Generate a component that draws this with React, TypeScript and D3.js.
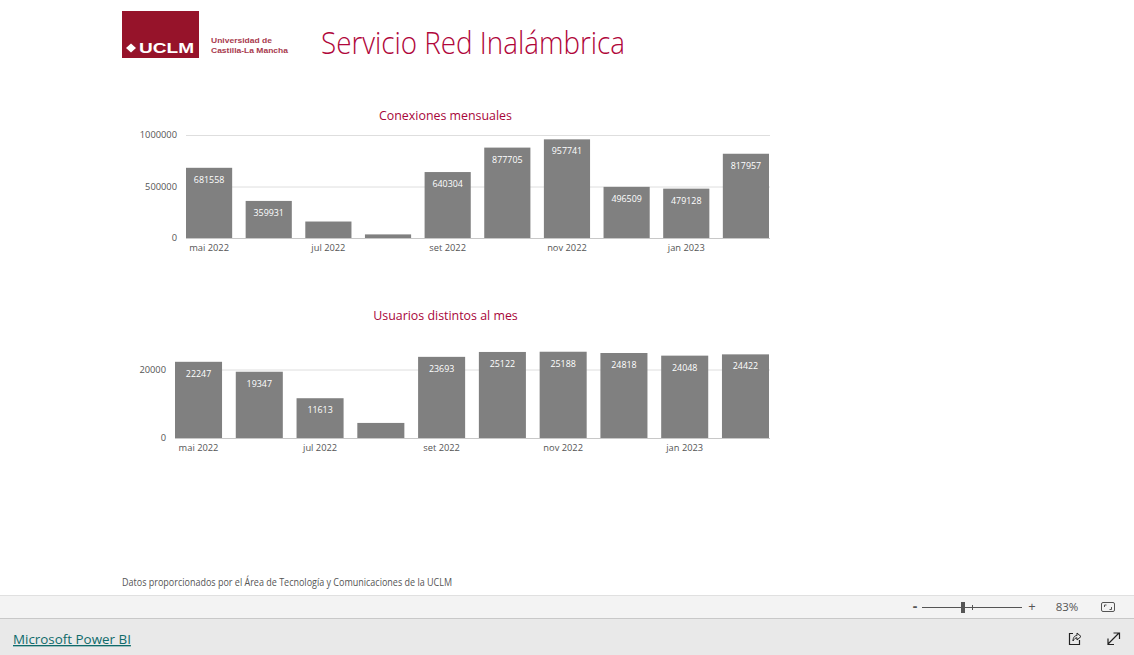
import * as d3 from "d3";
import { useEffect, useRef } from "react";

const months = ["mai 2022", "jun 2022", "jul 2022", "ago 2022", "set 2022", "out 2022", "nov 2022", "dez 2022", "jan 2023", "fev 2023"];
const monthTicks = ["mai 2022", "jul 2022", "set 2022", "nov 2022", "jan 2023"];
const conexiones = [681558, 359931, 160000, 35000, 640304, 877705, 957741, 496509, 479128, 817957];
const usuarios = [22247, 19347, 11613, 4400, 23693, 25122, 25188, 24818, 24048, 24422];
const conexionesTicks = [0, 500000, 1000000];
const usuariosTicks = [0, 20000];

const FONT = "'Open Sans', 'Noto Sans', sans-serif";

function drawChart(
  g: d3.Selection<SVGGElement, unknown, null, undefined>,
  values: number[],
  ticks: number[],
  yMax: number,
  left: number,
  y0: number,
  yTop: number,
  minLabel: number
) {
  const right = 769;
  const x = d3.scaleBand<string>().domain(months).range([left, right]).paddingInner(0.226);
  const y = d3.scaleLinear().domain([0, yMax]).range([y0, yTop]);

  // grid lines and y labels
  const yAxis = d3.axisLeft(y).tickValues(ticks).tickSize(0).tickPadding(8).tickFormat((d) => String(d));
  const ya = g.append("g").attr("transform", `translate(${left - 1},0)`).call(yAxis);
  ya.select(".domain").remove();
  ya.selectAll("text").attr("font-size", 9.3).attr("font-family", FONT).attr("fill", "#555");
  g.selectAll(".grid")
    .data(ticks)
    .enter()
    .append("line")
    .attr("x1", left)
    .attr("x2", right + 1)
    .attr("y1", (d) => y(d) + 0.5)
    .attr("y2", (d) => y(d) + 0.5)
    .attr("stroke", (d) => (d === 0 ? "#c8c8c8" : "#dedede"));

  g.selectAll(".bar")
    .data(values)
    .enter()
    .append("rect")
    .attr("x", (d, i) => x(months[i]) as number)
    .attr("y", (d) => y(d))
    .attr("width", x.bandwidth())
    .attr("height", (d) => y0 - y(d))
    .attr("fill", "#808080");

  // values inside the tall bars only
  g.selectAll(".val")
    .data(values)
    .enter()
    .filter((d) => d > minLabel)
    .append("text")
    .attr("x", (d) => (x(months[values.indexOf(d)]) as number) + x.bandwidth() / 2)
    .attr("y", (d) => y(d) + 15)
    .attr("text-anchor", "middle")
    .attr("font-size", 8.9)
    .attr("font-family", FONT)
    .attr("fill", "#fff")
    .text((d) => d);

  const xAxis = d3.axisBottom(x).tickValues(monthTicks).tickSize(0).tickPadding(6);
  const xa = g.append("g").attr("transform", `translate(0,${y0})`).call(xAxis);
  xa.select(".domain").remove();
  xa.selectAll("text").attr("font-size", 9.3).attr("font-family", FONT).attr("fill", "#555");
}

export default function App() {
  const svgRef = useRef<SVGSVGElement>(null);

  useEffect(() => {
    const svg = d3.select(svgRef.current as SVGSVGElement);
    const c1 = svg.select<SVGGElement>(".chart1");
    const c2 = svg.select<SVGGElement>(".chart2");
    c1.selectAll("*").remove();
    c2.selectAll("*").remove();
    drawChart(c1, conexiones, conexionesTicks, 1000000, 186, 238, 135, 200000);
    drawChart(c2, usuarios, usuariosTicks, 20000, 175, 438, 369.5, 5000);
  }, []);

  return (
    <svg ref={svgRef} width={1134} height={655} style={{ position: "absolute", left: 0, top: 0 }} fontFamily={FONT}>
      <rect x={0} y={0} width={1134} height={655} fill="#fff" />

      {/* logo */}
      <rect x={122} y={11} width={77} height={47} fill="#96132a" />
      <path d="M126 48 L131 43.5 L136 48 L131 52.5 Z" fill="#fff" />
      <text x={139} y={53} fontSize={14} fontWeight={700} fontFamily="'Liberation Sans', sans-serif" fill="#fff" textLength={55} lengthAdjust="spacingAndGlyphs">UCLM</text>
      <text x={211} y={43} fontSize={7.5} fontWeight={700} fontFamily="'Liberation Sans', sans-serif" fill="#a83a4e" textLength={61} lengthAdjust="spacingAndGlyphs">Universidad de</text>
      <text x={211} y={53} fontSize={7.5} fontWeight={700} fontFamily="'Liberation Sans', sans-serif" fill="#a83a4e" textLength={77} lengthAdjust="spacingAndGlyphs">Castilla-La Mancha</text>

      <text x={321} y={54} fontSize={31} fontWeight={300} fill="#b0063a" textLength={304} lengthAdjust="spacingAndGlyphs">Servicio Red Inalámbrica</text>

      <text x={445.5} y={120} textAnchor="middle" fontSize={12.4} fill="#a8063a">Conexiones mensuales</text>
      <g className="chart1" />

      <text x={445.5} y={320} textAnchor="middle" fontSize={12.4} fill="#a8063a">Usuarios distintos al mes</text>
      <g className="chart2" />

      <text x={122} y={586} fontSize={10} fill="#555" textLength={330} lengthAdjust="spacingAndGlyphs">Datos proporcionados por el Área de Tecnología y Comunicaciones de la UCLM</text>

      {/* Power BI footer */}
      <rect x={0} y={595} width={1134} height={24} fill="#f3f3f3" />
      <line x1={0} x2={1134} y1={595.5} y2={595.5} stroke="#e0e0e0" />
      <rect x={0} y={618} width={1134} height={37} fill="#e9e9e9" />
      <line x1={0} x2={1134} y1={618.5} y2={618.5} stroke="#c8c8c8" />
      <text x={13} y={644} fontSize={13.4} fontWeight={500} fill="#0f6b6b" textDecoration="underline">Microsoft Power BI</text>

      <text x={915} y={611} textAnchor="middle" fontSize={14} fontWeight={700} fill="#555">-</text>
      <line x1={922} x2={1022} y1={607.5} y2={607.5} stroke="#555" />
      <line x1={972.5} x2={972.5} y1={605} y2={610} stroke="#555" />
      <rect x={961} y={602} width={4} height={11} fill="#555" />
      <text x={1032} y={611} textAnchor="middle" fontSize={13} fill="#555">+</text>
      <text x={1067} y={611} textAnchor="middle" fontSize={11.5} fill="#555">83%</text>
      <rect x={1101.5} y={602.5} width={13} height={9} rx={1.5} fill="none" stroke="#555" />
      <path d="M1104.5 607 V605 H1106.5 M1111.5 607 V609.5 H1109.5" fill="none" stroke="#555" />

      <path d="M1073 633.5 H1069.5 V644.5 H1079.5 V640" fill="none" stroke="#222" strokeWidth={1.2} />
      <path d="M1073 641 C1073 637 1075 635.5 1077 635.5 V633 L1081 636.5 L1077 640 V637.8 C1075.5 637.8 1074 639 1073 641 Z" fill="none" stroke="#222" strokeWidth={1} />
      <path d="M1108 644 L1119 633 M1113.5 633 H1119.5 V639 M1108 638.5 V644.5 H1114" fill="none" stroke="#222" strokeWidth={1.2} />
    </svg>
  );
}
